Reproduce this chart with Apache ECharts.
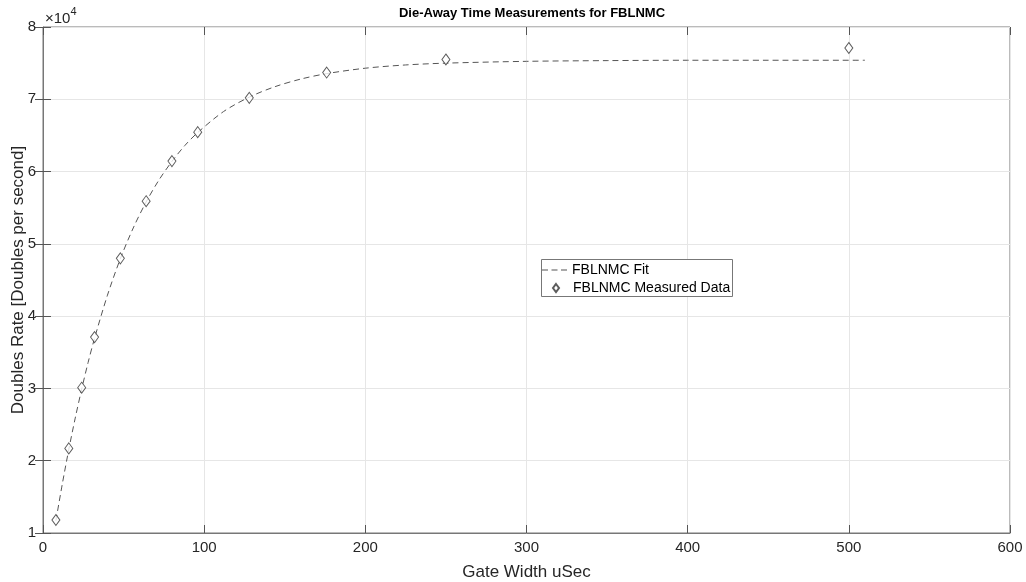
<!DOCTYPE html>
<html>
<head>
<meta charset="utf-8">
<script src="https://cdn.jsdelivr.net/npm/echarts@6/dist/echarts.min.js"></script>
<style>
  html, body { margin: 0; padding: 0; background: #fff; }
  #chart { width: 1026px; height: 582px; }
</style>
</head>
<body>
<div id="chart"></div>
<script>
// measured points (gate width, doubles rate)
const gateWidths = [8, 16, 24, 32, 48, 64, 80, 96, 128, 176, 250, 500]
const measured = [11800, 21700, 30100, 37100, 48000, 55900, 61450, 65450, 70200, 73700, 75500, 77100]

// fit curve
const fitX = [8, 12, 16, 20, 24, 28, 32, 40, 48, 56, 64, 72, 80, 88, 96, 112, 128, 144, 160, 176, 200, 225, 250, 300, 350, 400, 450, 510]
const fitY = [11700, 16800, 21550, 25900, 29900, 33600, 36950, 42900, 47950, 52200, 55800, 58850, 61400, 63600, 65400, 68300, 70300, 71750, 72800, 73550, 74300, 74750, 75000, 75250, 75350, 75400, 75400, 75400]

const xTicks = [0, 100, 200, 300, 400, 500, 600]
const yTicks = [1, 2, 3, 4, 5, 6, 7, 8]

const font = 'Liberation Sans, Arial, Helvetica, sans-serif'
const txt = '#262626'
const axisColor = '#777'

const chart = echarts.init(document.getElementById('chart'))

// ticks pointing inward on all four sides (matlab box)
const tick = { show: true, inside: true, length: 8, lineStyle: { color: '#555' } }

const option = {
  animation: false,
  textStyle: { fontFamily: font },
  title: {
    text: 'Die-Away Time Measurements for FBLNMC',
    left: 527,
    top: 2,
    textAlign: 'center',
    textStyle: { fontSize: 13, fontWeight: 'bold', color: '#000', fontFamily: font }
  },
  grid: {
    left: 43, right: 16, top: 27, bottom: 49,
    outerBoundsMode: 'none',
    containLabel: false,
    show: true, borderColor: axisColor, borderWidth: 1
  },
  legend: [{
    left: 542, top: 263,
    padding: 0,
    z: 10,
    itemWidth: 25, itemHeight: 1,
    icon: 'path://M0,0h6v1h-6zM9.5,0h6v1h-6zM19,0h6v1h-6z',
    textStyle: { fontSize: 14, color: '#000', fontFamily: font },
    data: ['FBLNMC Fit']
  }, {
    left: 552, top: 281,
    padding: 0,
    z: 10,
    itemWidth: 6, itemHeight: 8,
    icon: 'diamond',
    textStyle: { fontSize: 14, color: '#000', fontFamily: font, padding: [0, 0, 0, 9] },
    data: ['FBLNMC Measured Data']
  }],
  graphic: [{
    type: 'rect',
    shape: { x: 541.5, y: 259.5, width: 191, height: 37 },
    style: { fill: '#fff', stroke: axisColor, lineWidth: 1 },
    z: 4
  }, {
    type: 'text',
    left: 45, top: 6,
    style: {
      text: '{a|×10}{b|4}',
      fontFamily: font,
      rich: {
        a: { fontSize: 15, fill: txt, verticalAlign: 'bottom', lineHeight: 20 },
        b: { fontSize: 11, fill: txt, verticalAlign: 'top', lineHeight: 20, padding: [0, 0, 9, 0] }
      }
    }
  }],
  xAxis: [{
    type: 'value',
    min: xTicks[0], max: xTicks[xTicks.length - 1], interval: 100,
    name: 'Gate Width uSec',
    nameLocation: 'middle', nameGap: 31,
    nameMoveOverlap: false,
    nameTextStyle: { fontSize: 17, color: txt },
    axisLine: { show: true, lineStyle: { color: axisColor } },
    axisTick: tick,
    axisLabel: { fontSize: 15, color: txt, margin: 7 },
    splitLine: { show: true, lineStyle: { color: '#e6e6e6' } }
  }, {
    type: 'value', position: 'top',
    min: xTicks[0], max: xTicks[xTicks.length - 1], interval: 100,
    axisLine: { show: false },
    axisTick: tick,
    axisLabel: { show: false },
    splitLine: { show: false }
  }],
  yAxis: [{
    type: 'value',
    min: yTicks[0] * 10000, max: yTicks[yTicks.length - 1] * 10000, interval: 10000,
    name: 'Doubles Rate [Doubles per second]',
    nameLocation: 'middle', nameGap: 16,
    nameMoveOverlap: false,
    nameTextStyle: { fontSize: 17, color: txt },
    axisLine: { show: true, lineStyle: { color: axisColor } },
    axisTick: tick,
    axisLabel: { fontSize: 15, color: txt, margin: 7, formatter: v => String(v / 10000) },
    splitLine: { show: true, lineStyle: { color: '#e6e6e6' } }
  }, {
    type: 'value', position: 'right',
    min: yTicks[0] * 10000, max: yTicks[yTicks.length - 1] * 10000, interval: 10000,
    axisLine: { show: false },
    axisTick: tick,
    axisLabel: { show: false },
    splitLine: { show: false }
  }],
  series: [{
    name: 'FBLNMC Fit',
    type: 'line',
    data: fitX.map((x, i) => [x, fitY[i]]),
    smooth: 0.3,
    symbol: 'none',
    lineStyle: { color: '#555', width: 1, type: [6, 4] },
    itemStyle: { color: '#555' },
    z: 2
  }, {
    name: 'FBLNMC Measured Data',
    type: 'scatter',
    data: gateWidths.map((x, i) => [x, measured[i]]),
    symbol: 'diamond',
    symbolSize: [8, 11],
    itemStyle: { color: '#fff', borderColor: '#333', borderWidth: 1 },
    z: 3
  }]
}

chart.setOption(option)
</script>
</body>
</html>
